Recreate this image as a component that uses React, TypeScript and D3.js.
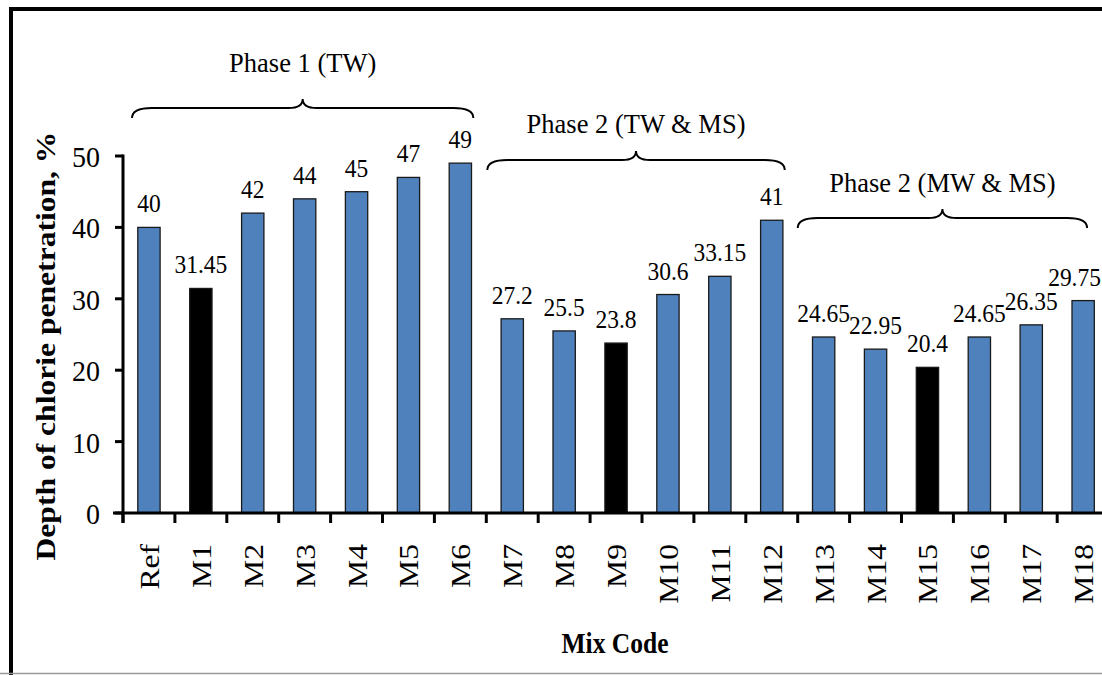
import React from "react";
import * as d3 from "d3";

// chart data
const categories = ["Ref", "M1", "M2", "M3", "M4", "M5", "M6", "M7", "M8", "M9", "M10", "M11", "M12", "M13", "M14", "M15", "M16", "M17", "M18"];
const depth = [40, 31.45, 42, 44, 45, 47, 49, 27.2, 25.5, 23.8, 30.6, 33.15, 41, 24.65, 22.95, 20.4, 24.65, 26.35, 29.75];
const highlighted = ["M1", "M9", "M15"];
const yTicks = [0, 10, 20, 30, 40, 50];
const phaseLabels = ["Phase 1 (TW)", "Phase 2 (TW & MS)", "Phase 2 (MW & MS)"];
const phaseFrom = ["Ref", "M7", "M13"];
const phaseTo = ["M6", "M12", "M18"];

const yTitle = "Depth of chlorie penetration, %";
const xTitle = "Mix Code";

// layout
const W = 1102;
const H = 675;
const axisX = 123;
const bandStep = 51.9;
const serif = "Liberation Serif, Times New Roman, serif";
const blue = "#4F81BD";

// per-brace tweaks: left offset, right offset (from band centre), flat y, label baseline
const braceLayout = [
  { dx0: 9, dx1: 13, yFlat: 108, labelY: 72 },
  { dx0: 1, dx1: 13, yFlat: 160, labelY: 133 },
  { dx0: 0, dx1: 4, yFlat: 218, labelY: 192 },
];

function bracePath(x0: number, x1: number, yFlat: number) {
  const r = 20;
  const c = 14;
  const xm = (x0 + x1) / 2;
  const yEnd = yFlat + 10;
  const yTip = yFlat - 9;
  return [
    `M${x0},${yEnd}`,
    `Q${x0},${yFlat} ${x0 + r},${yFlat}`,
    `L${xm - c},${yFlat}`,
    `Q${xm},${yFlat} ${xm},${yTip}`,
    `Q${xm},${yFlat} ${xm + c},${yFlat}`,
    `L${x1 - r},${yFlat}`,
    `Q${x1},${yFlat} ${x1},${yEnd}`,
  ].join(" ");
}

export default function App() {
  const x = d3.scaleBand<string>().domain(categories).range([axisX, axisX + categories.length * bandStep]).padding(0);
  const y = d3.scaleLinear().domain([0, 50]).range([513, 156]);
  const bw = x.bandwidth();
  const barW = bw * 0.43;
  const y0 = y(0);
  const fontSt = { fontFamily: serif };

  return (
    <svg width={W} height={H} style={{ position: "absolute", left: 0, top: 0, background: "#fff" }}>
      {/* frame */}
      <line x1={11} y1={9} x2={W} y2={9} stroke="#000" strokeWidth={4} />
      <line x1={11} y1={7} x2={11} y2={H} stroke="#000" strokeWidth={4} />
      <line x1={0} y1={673.5} x2={W} y2={673.5} stroke="#999" strokeWidth={1.5} />

      {/* bars */}
      {categories.map((c, i) => {
        const cx = (x(c) as number) + bw / 2;
        return (
          <rect key={c} x={cx - barW / 2} y={y(depth[i])} width={barW} height={y0 - y(depth[i])}
            fill={highlighted.includes(c) ? "#000" : blue} stroke="#1a1a1a" strokeWidth={1.3} />
        );
      })}

      {/* value labels (the last one is pulled in so it stays on the page) */}
      {categories.map((c, i) => {
        const cx = (x(c) as number) + bw / 2;
        const txt = String(depth[i]);
        const half = txt.length * 5.6;
        const over = cx + half > W - 1;
        return (
          <text key={"v" + c} style={fontSt} transform={`translate(${over ? W - 1 : cx},${y(depth[i]) - 15}) scale(1,1.07)`}
            textAnchor={over ? "end" : "middle"} fontSize={23.5} fill="#000">
            {txt}
          </text>
        );
      })}

      {/* y axis */}
      <line x1={axisX} y1={y(50) - 1.5} x2={axisX} y2={y0 + 10} stroke="#000" strokeWidth={3} />
      {yTicks.map((t) => (
        <g key={"yt" + t}>
          <line x1={axisX - 8} x2={axisX} y1={y(t)} y2={y(t)} stroke="#000" strokeWidth={3} />
          <text style={fontSt} transform={`translate(100,${y(t) + 11}) scale(1,1.08)`} textAnchor="end" fontSize={28}>{t}</text>
        </g>
      ))}

      {/* x axis */}
      <line x1={axisX - 10} y1={y0} x2={W} y2={y0} stroke="#000" strokeWidth={3} />
      {categories.map((c) => (
        <line key={"xt" + c} x1={x(c) as number} x2={x(c) as number} y1={y0} y2={y0 + 10} stroke="#000" strokeWidth={3} />
      ))}
      {categories.map((c) => {
        const cx = (x(c) as number) + bw / 2;
        return (
          <text key={"xl" + c} style={fontSt} transform={`translate(${cx + 10},544) scale(1,1.17) rotate(-90)`} textAnchor="end" fontSize={27}>
            {c}
          </text>
        );
      })}

      {/* axis titles */}
      <text style={fontSt} transform={`translate(55,346) scale(1,1.17) rotate(-90)`} textAnchor="middle" fontSize={27} fontWeight="bold">
        {yTitle}
      </text>
      <text style={fontSt} transform={`translate(615,653) scale(1,1.15)`} textAnchor="middle" fontSize={25.5} fontWeight="bold">
        {xTitle}
      </text>

      {/* phase braces */}
      {phaseLabels.map((label, i) => {
        const L = braceLayout[i];
        const x0 = (x(phaseFrom[i]) as number) + L.dx0;
        const x1 = (x(phaseTo[i]) as number) + bw / 2 + L.dx1;
        return (
          <g key={label}>
            <path d={bracePath(x0, x1, L.yFlat)} fill="none" stroke="#000" strokeWidth={2} />
            <text style={fontSt} x={(x0 + x1) / 2} y={L.labelY} textAnchor="middle" fontSize={26.5}>{label}</text>
          </g>
        );
      })}
    </svg>
  );
}
